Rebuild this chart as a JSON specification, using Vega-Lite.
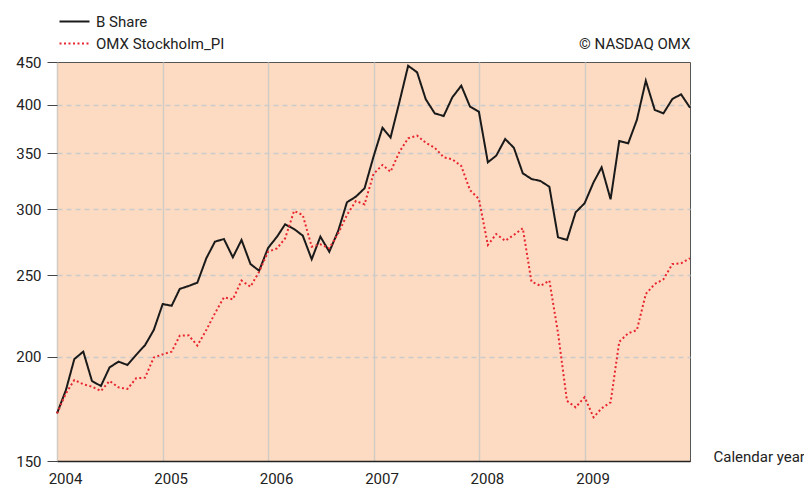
{
  "$schema": "https://vega.github.io/schema/vega-lite/v6.json",
  "width": 633,
  "height": 399,
  "autosize": {"type": "none"},
  "padding": {"left": 57, "top": 62, "right": 114, "bottom": 27},
  "background": "white",
  "config": {
    "font": "Roboto",
    "view": {"fill": "#FCDBC2", "stroke": "#555555", "strokeWidth": 1}
  },
  "data": {
    "values": [
      {"date": "2004-01-01", "series": "B Share", "value": 171.0},
      {"date": "2004-02-01", "series": "B Share", "value": 182.4},
      {"date": "2004-03-01", "series": "B Share", "value": 198.6},
      {"date": "2004-04-01", "series": "B Share", "value": 202.7},
      {"date": "2004-05-01", "series": "B Share", "value": 187.0},
      {"date": "2004-06-01", "series": "B Share", "value": 184.4},
      {"date": "2004-07-01", "series": "B Share", "value": 194.1},
      {"date": "2004-08-01", "series": "B Share", "value": 197.2},
      {"date": "2004-09-01", "series": "B Share", "value": 195.4},
      {"date": "2004-10-01", "series": "B Share", "value": 200.9},
      {"date": "2004-11-01", "series": "B Share", "value": 206.4},
      {"date": "2004-12-01", "series": "B Share", "value": 215.1},
      {"date": "2005-01-01", "series": "B Share", "value": 231.1},
      {"date": "2005-02-01", "series": "B Share", "value": 230.0},
      {"date": "2005-03-01", "series": "B Share", "value": 240.9},
      {"date": "2005-04-01", "series": "B Share", "value": 242.9},
      {"date": "2005-05-01", "series": "B Share", "value": 245.1},
      {"date": "2005-06-01", "series": "B Share", "value": 262.1},
      {"date": "2005-07-01", "series": "B Share", "value": 274.4},
      {"date": "2005-08-01", "series": "B Share", "value": 276.4},
      {"date": "2005-09-01", "series": "B Share", "value": 262.8},
      {"date": "2005-10-01", "series": "B Share", "value": 275.7},
      {"date": "2005-11-01", "series": "B Share", "value": 258.0},
      {"date": "2005-12-01", "series": "B Share", "value": 253.3},
      {"date": "2006-01-01", "series": "B Share", "value": 269.7},
      {"date": "2006-02-01", "series": "B Share", "value": 278.2},
      {"date": "2006-03-01", "series": "B Share", "value": 287.8},
      {"date": "2006-04-01", "series": "B Share", "value": 284.1},
      {"date": "2006-05-01", "series": "B Share", "value": 279.0},
      {"date": "2006-06-01", "series": "B Share", "value": 261.4},
      {"date": "2006-07-01", "series": "B Share", "value": 278.2},
      {"date": "2006-08-01", "series": "B Share", "value": 266.9},
      {"date": "2006-09-01", "series": "B Share", "value": 282.8},
      {"date": "2006-10-01", "series": "B Share", "value": 305.8},
      {"date": "2006-11-01", "series": "B Share", "value": 310.6},
      {"date": "2006-12-01", "series": "B Share", "value": 317.8},
      {"date": "2007-01-01", "series": "B Share", "value": 346.7},
      {"date": "2007-02-01", "series": "B Share", "value": 375.5},
      {"date": "2007-03-01", "series": "B Share", "value": 365.4},
      {"date": "2007-04-01", "series": "B Share", "value": 403.4},
      {"date": "2007-05-01", "series": "B Share", "value": 445.4},
      {"date": "2007-06-01", "series": "B Share", "value": 437.4},
      {"date": "2007-07-01", "series": "B Share", "value": 406.1},
      {"date": "2007-08-01", "series": "B Share", "value": 390.7},
      {"date": "2007-09-01", "series": "B Share", "value": 387.8},
      {"date": "2007-10-01", "series": "B Share", "value": 408.3},
      {"date": "2007-11-01", "series": "B Share", "value": 421.6},
      {"date": "2007-12-01", "series": "B Share", "value": 398.1},
      {"date": "2008-01-01", "series": "B Share", "value": 392.4},
      {"date": "2008-02-01", "series": "B Share", "value": 341.4},
      {"date": "2008-03-01", "series": "B Share", "value": 347.7},
      {"date": "2008-04-01", "series": "B Share", "value": 364.0},
      {"date": "2008-05-01", "series": "B Share", "value": 355.4},
      {"date": "2008-06-01", "series": "B Share", "value": 331.2},
      {"date": "2008-07-01", "series": "B Share", "value": 326.1},
      {"date": "2008-08-01", "series": "B Share", "value": 324.3},
      {"date": "2008-09-01", "series": "B Share", "value": 319.2},
      {"date": "2008-10-01", "series": "B Share", "value": 277.7},
      {"date": "2008-11-01", "series": "B Share", "value": 275.7},
      {"date": "2008-12-01", "series": "B Share", "value": 297.5},
      {"date": "2009-01-01", "series": "B Share", "value": 305.0},
      {"date": "2009-02-01", "series": "B Share", "value": 323.1},
      {"date": "2009-03-01", "series": "B Share", "value": 336.7},
      {"date": "2009-04-01", "series": "B Share", "value": 308.3},
      {"date": "2009-05-01", "series": "B Share", "value": 362.0},
      {"date": "2009-06-01", "series": "B Share", "value": 359.7},
      {"date": "2009-07-01", "series": "B Share", "value": 383.6},
      {"date": "2009-08-01", "series": "B Share", "value": 427.4},
      {"date": "2009-09-01", "series": "B Share", "value": 394.3},
      {"date": "2009-10-01", "series": "B Share", "value": 390.7},
      {"date": "2009-11-01", "series": "B Share", "value": 406.4},
      {"date": "2009-12-01", "series": "B Share", "value": 411.7},
      {"date": "2010-01-01", "series": "B Share", "value": 396.8},
      {"date": "2004-01-01", "series": "OMX Stockholm_PI", "value": 171.0},
      {"date": "2004-02-01", "series": "OMX Stockholm_PI", "value": 180.7},
      {"date": "2004-03-01", "series": "OMX Stockholm_PI", "value": 187.5},
      {"date": "2004-04-01", "series": "OMX Stockholm_PI", "value": 185.3},
      {"date": "2004-05-01", "series": "OMX Stockholm_PI", "value": 184.1},
      {"date": "2004-06-01", "series": "OMX Stockholm_PI", "value": 181.9},
      {"date": "2004-07-01", "series": "OMX Stockholm_PI", "value": 187.0},
      {"date": "2004-08-01", "series": "OMX Stockholm_PI", "value": 183.7},
      {"date": "2004-09-01", "series": "OMX Stockholm_PI", "value": 182.9},
      {"date": "2004-10-01", "series": "OMX Stockholm_PI", "value": 188.4},
      {"date": "2004-11-01", "series": "OMX Stockholm_PI", "value": 188.7},
      {"date": "2004-12-01", "series": "OMX Stockholm_PI", "value": 199.4},
      {"date": "2005-01-01", "series": "OMX Stockholm_PI", "value": 201.2},
      {"date": "2005-02-01", "series": "OMX Stockholm_PI", "value": 202.7},
      {"date": "2005-03-01", "series": "OMX Stockholm_PI", "value": 211.8},
      {"date": "2005-04-01", "series": "OMX Stockholm_PI", "value": 212.0},
      {"date": "2005-05-01", "series": "OMX Stockholm_PI", "value": 206.1},
      {"date": "2005-06-01", "series": "OMX Stockholm_PI", "value": 215.1},
      {"date": "2005-07-01", "series": "OMX Stockholm_PI", "value": 225.3},
      {"date": "2005-08-01", "series": "OMX Stockholm_PI", "value": 235.4},
      {"date": "2005-09-01", "series": "OMX Stockholm_PI", "value": 234.1},
      {"date": "2005-10-01", "series": "OMX Stockholm_PI", "value": 246.5},
      {"date": "2005-11-01", "series": "OMX Stockholm_PI", "value": 242.4},
      {"date": "2005-12-01", "series": "OMX Stockholm_PI", "value": 252.6},
      {"date": "2006-01-01", "series": "OMX Stockholm_PI", "value": 266.9},
      {"date": "2006-02-01", "series": "OMX Stockholm_PI", "value": 269.4},
      {"date": "2006-03-01", "series": "OMX Stockholm_PI", "value": 276.9},
      {"date": "2006-04-01", "series": "OMX Stockholm_PI", "value": 298.6},
      {"date": "2006-05-01", "series": "OMX Stockholm_PI", "value": 295.3},
      {"date": "2006-06-01", "series": "OMX Stockholm_PI", "value": 270.6},
      {"date": "2006-07-01", "series": "OMX Stockholm_PI", "value": 272.4},
      {"date": "2006-08-01", "series": "OMX Stockholm_PI", "value": 269.4},
      {"date": "2006-09-01", "series": "OMX Stockholm_PI", "value": 280.8},
      {"date": "2006-10-01", "series": "OMX Stockholm_PI", "value": 295.3},
      {"date": "2006-11-01", "series": "OMX Stockholm_PI", "value": 306.9},
      {"date": "2006-12-01", "series": "OMX Stockholm_PI", "value": 304.1},
      {"date": "2007-01-01", "series": "OMX Stockholm_PI", "value": 330.6},
      {"date": "2007-02-01", "series": "OMX Stockholm_PI", "value": 338.9},
      {"date": "2007-03-01", "series": "OMX Stockholm_PI", "value": 332.7},
      {"date": "2007-04-01", "series": "OMX Stockholm_PI", "value": 351.5},
      {"date": "2007-05-01", "series": "OMX Stockholm_PI", "value": 364.7},
      {"date": "2007-06-01", "series": "OMX Stockholm_PI", "value": 367.4},
      {"date": "2007-07-01", "series": "OMX Stockholm_PI", "value": 360.3},
      {"date": "2007-08-01", "series": "OMX Stockholm_PI", "value": 355.4},
      {"date": "2007-09-01", "series": "OMX Stockholm_PI", "value": 346.2},
      {"date": "2007-10-01", "series": "OMX Stockholm_PI", "value": 344.2},
      {"date": "2007-11-01", "series": "OMX Stockholm_PI", "value": 337.9},
      {"date": "2007-12-01", "series": "OMX Stockholm_PI", "value": 316.3},
      {"date": "2008-01-01", "series": "OMX Stockholm_PI", "value": 308.6},
      {"date": "2008-02-01", "series": "OMX Stockholm_PI", "value": 271.9},
      {"date": "2008-03-01", "series": "OMX Stockholm_PI", "value": 280.2},
      {"date": "2008-04-01", "series": "OMX Stockholm_PI", "value": 275.1},
      {"date": "2008-05-01", "series": "OMX Stockholm_PI", "value": 279.5},
      {"date": "2008-06-01", "series": "OMX Stockholm_PI", "value": 284.7},
      {"date": "2008-07-01", "series": "OMX Stockholm_PI", "value": 245.8},
      {"date": "2008-08-01", "series": "OMX Stockholm_PI", "value": 243.0},
      {"date": "2008-09-01", "series": "OMX Stockholm_PI", "value": 246.5},
      {"date": "2008-10-01", "series": "OMX Stockholm_PI", "value": 213.4},
      {"date": "2008-11-01", "series": "OMX Stockholm_PI", "value": 177.0},
      {"date": "2008-12-01", "series": "OMX Stockholm_PI", "value": 173.9},
      {"date": "2009-01-01", "series": "OMX Stockholm_PI", "value": 178.8},
      {"date": "2009-02-01", "series": "OMX Stockholm_PI", "value": 169.2},
      {"date": "2009-03-01", "series": "OMX Stockholm_PI", "value": 173.4},
      {"date": "2009-04-01", "series": "OMX Stockholm_PI", "value": 176.3},
      {"date": "2009-05-01", "series": "OMX Stockholm_PI", "value": 208.3},
      {"date": "2009-06-01", "series": "OMX Stockholm_PI", "value": 213.2},
      {"date": "2009-07-01", "series": "OMX Stockholm_PI", "value": 215.1},
      {"date": "2009-08-01", "series": "OMX Stockholm_PI", "value": 237.6},
      {"date": "2009-09-01", "series": "OMX Stockholm_PI", "value": 244.2},
      {"date": "2009-10-01", "series": "OMX Stockholm_PI", "value": 247.4},
      {"date": "2009-11-01", "series": "OMX Stockholm_PI", "value": 258.0},
      {"date": "2009-12-01", "series": "OMX Stockholm_PI", "value": 258.5},
      {"date": "2010-01-01", "series": "OMX Stockholm_PI", "value": 262.1}
    ]
  },
  "mark": {"type": "line", "strokeWidth": 2, "interpolate": "linear"},
  "encoding": {
    "x": {
      "field": "date",
      "type": "temporal",
      "scale": {
        "type": "utc",
        "domain": [
          {"year": 2004, "month": 1, "date": 1, "utc": true},
          {"year": 2010, "month": 1, "date": 1, "utc": true}
        ]
      },
      "axis": {
        "values": [
          {"year": 2004, "month": 1, "date": 1, "utc": true},
          {"year": 2005, "month": 1, "date": 1, "utc": true},
          {"year": 2006, "month": 1, "date": 1, "utc": true},
          {"year": 2007, "month": 1, "date": 1, "utc": true},
          {"year": 2008, "month": 1, "date": 1, "utc": true},
          {"year": 2009, "month": 1, "date": 1, "utc": true}
        ],
        "format": "%Y",
        "title": "Calendar year",
        "titleX": 656,
        "titleY": -5,
        "titleAlign": "left",
        "titleBaseline": "middle",
        "titleFontSize": 15,
        "titleFontWeight": "normal",
        "titleColor": "#222222",
        "labelFontSize": 15,
        "labelColor": "#222222",
        "labelOffset": 8,
        "labelFlush": false,
        "labelPadding": 10,
        "ticks": false,
        "domainColor": "#222222",
        "domainWidth": 1.5,
        "grid": true,
        "gridColor": "#D2CBC4",
        "gridWidth": 1.5
      }
    },
    "y": {
      "field": "value",
      "type": "quantitative",
      "scale": {"type": "log", "domain": [150, 450], "nice": false},
      "axis": {
        "values": [150, 200, 250, 300, 350, 400, 450],
        "format": "d",
        "title": "© NASDAQ OMX",
        "titleAngle": 0,
        "titleX": 633,
        "titleY": -14,
        "titleAlign": "right",
        "titleBaseline": "alphabetic",
        "titleFontSize": 15,
        "titleFontWeight": "normal",
        "titleColor": "#222222",
        "tickSize": 10,
        "tickColor": "#444444",
        "labelPadding": 6,
        "labelFontSize": 15,
        "labelColor": "#222222",
        "domain": false,
        "grid": true,
        "gridDash": [5, 4],
        "gridColor": "#CBCBCB",
        "gridWidth": 1.5,
        "gridOpacity": {"condition": {"test": "datum.value <= 150 || datum.value >= 450", "value": 0}, "value": 1}
      }
    },
    "color": {
      "field": "series",
      "type": "nominal",
      "scale": {"domain": ["B Share", "OMX Stockholm_PI"], "range": ["#1A1A1A", "#E8262F"]},
      "legend": {
        "orient": "none",
        "legendX": 10,
        "legendY": -48,
        "title": null,
        "direction": "vertical",
        "symbolType": "M-3,0H3",
        "symbolSize": 100,
        "symbolStrokeWidth": 2,
        "labelFontSize": 15,
        "labelOffset": 14,
        "rowPadding": 6,
        "padding": 0,
        "labelColor": "#222222",
        "labelFont": "Roboto"
      }
    },
    "strokeDash": {
      "field": "series",
      "type": "nominal",
      "scale": {"domain": ["B Share", "OMX Stockholm_PI"], "range": [[1, 0], [2, 2.5]]},
      "legend": {
        "orient": "none",
        "legendX": 10,
        "legendY": -48,
        "title": null,
        "direction": "vertical",
        "symbolType": "M-3,0H3",
        "symbolSize": 100,
        "symbolStrokeWidth": 2,
        "labelFontSize": 15,
        "labelOffset": 14,
        "rowPadding": 6,
        "padding": 0,
        "labelColor": "#222222",
        "labelFont": "Roboto"
      }
    }
  }
}
